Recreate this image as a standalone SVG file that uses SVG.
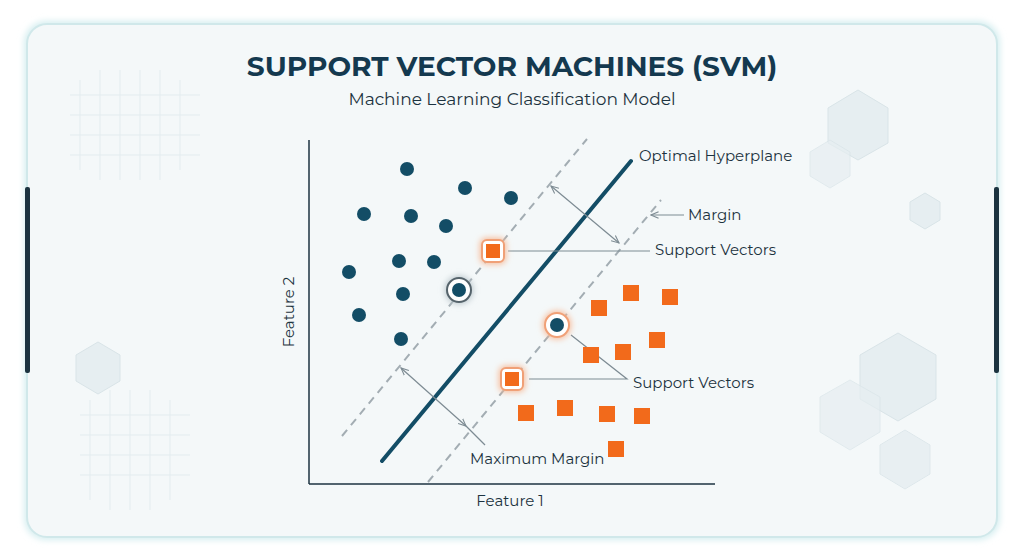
<svg xmlns="http://www.w3.org/2000/svg" width="1024" height="559" viewBox="0 0 1024 559">
<defs>
<style>
.dot{fill:#134d66}
.sq{fill:#f26a1b}
.lbl{font-family:"Montserrat","Lato","Liberation Sans",sans-serif;font-size:15px;fill:#1c3340}
.thin{stroke:#7d8b93;stroke-width:1.2;fill:none}
.dash{stroke:#a3adb3;stroke-width:2;stroke-dasharray:8 6;fill:none}
.hex{fill:#e6eef1;stroke:#d9e4e8;stroke-width:1}
.grid{stroke:#e3ecef;stroke-width:1}
</style>
<marker id="ar" viewBox="0 0 10 10" refX="9" refY="5" markerWidth="7" markerHeight="7" orient="auto-start-reverse"><path d="M0,1 L9,5 L0,9" fill="none" stroke="#7d8b93" stroke-width="1.3"/></marker>
<filter id="gl" x="-50%" y="-50%" width="200%" height="200%"><feGaussianBlur stdDeviation="3"/></filter>
</defs>
<rect width="1024" height="559" fill="#ffffff"/>
<rect x="24" y="21" width="976" height="519" rx="22" fill="#d6eef0" filter="url(#gl)"/>
<rect x="27" y="24" width="970" height="513" rx="20" fill="#f4f8f9" stroke="#d0e8ea" stroke-width="2"/>
<rect x="25" y="187" width="5" height="186" rx="2" fill="#1c3340"/>
<rect x="994" y="187" width="5" height="186" rx="2" fill="#1c3340"/>
<g id="decor">
<g class="grid">
<line x1="80" y1="80" x2="80" y2="170"/><line x1="100" y1="70" x2="100" y2="180"/><line x1="120" y1="70" x2="120" y2="180"/><line x1="140" y1="70" x2="140" y2="180"/><line x1="160" y1="70" x2="160" y2="180"/><line x1="180" y1="80" x2="180" y2="170"/>
<line x1="70" y1="95" x2="200" y2="95"/><line x1="70" y1="115" x2="200" y2="115"/><line x1="70" y1="135" x2="200" y2="135"/><line x1="70" y1="155" x2="200" y2="155"/>
<line x1="90" y1="400" x2="90" y2="500"/><line x1="110" y1="390" x2="110" y2="510"/><line x1="130" y1="390" x2="130" y2="510"/><line x1="150" y1="390" x2="150" y2="510"/><line x1="170" y1="400" x2="170" y2="500"/>
<line x1="80" y1="415" x2="190" y2="415"/><line x1="80" y1="435" x2="190" y2="435"/><line x1="80" y1="455" x2="190" y2="455"/><line x1="80" y1="475" x2="190" y2="475"/>
</g>
<polygon class="hex" points="858,90 888,108 888,143 858,160 828,143 828,108"/>
<polygon class="hex" points="830,140 850,152 850,176 830,188 810,176 810,152" opacity="0.7"/>
<polygon class="hex" points="925,193 940,202 940,220 925,229 910,220 910,202"/>
<polygon class="hex" points="898,333 936,355 936,399 898,421 860,399 860,355"/>
<polygon class="hex" points="850,380 880,397 880,432 850,450 820,432 820,397" opacity="0.7"/>
<polygon class="hex" points="905,430 930,445 930,474 905,489 880,474 880,445" opacity="0.8"/>
<polygon class="hex" points="98,342 120,355 120,381 98,394 76,381 76,355"/>
</g>
<g id="title">
<text x="512" y="76" text-anchor="middle" font-family="Montserrat,'Lato','Liberation Sans',sans-serif" font-weight="bold" font-size="28" fill="#14394f">SUPPORT VECTOR MACHINES (SVM)</text>
<text x="512" y="105" text-anchor="middle" font-family="Montserrat,'Lato','Liberation Sans',sans-serif" font-size="17" fill="#1c3340">Machine Learning Classification Model</text>
</g>
<g id="axes" stroke="#1c3340" stroke-width="1.5">
<line x1="309" y1="140" x2="309" y2="484"/><line x1="309" y1="484" x2="715" y2="484"/>
</g>
<text class="lbl" x="510" y="506" text-anchor="middle">Feature 1</text>
<text class="lbl" transform="translate(294,312) rotate(-90)" text-anchor="middle">Feature 2</text>
<g id="connectors">
<line class="dash" x1="342" y1="436" x2="587" y2="139"/>
<line class="dash" x1="428" y1="482" x2="661" y2="200"/>
<line x1="382" y1="461" x2="631" y2="161" stroke="#134d66" stroke-width="4" stroke-linecap="round"/>
<line class="thin" x1="551" y1="186" x2="619" y2="243" marker-start="url(#ar)" marker-end="url(#ar)"/>
<line class="thin" x1="401" y1="368" x2="466" y2="426" marker-start="url(#ar)" marker-end="url(#ar)"/>
<line class="thin" x1="466" y1="426" x2="485" y2="445"/>
<line class="thin" x1="684" y1="215" x2="651" y2="215" marker-end="url(#ar)"/>
<line class="thin" x1="508" y1="251" x2="650" y2="251"/>
<polyline class="thin" points="571,335 627,379 529,379"/>
</g>
<g id="blue-dots">
<circle class="dot" cx="407" cy="169" r="7"/><circle class="dot" cx="465" cy="188" r="7"/><circle class="dot" cx="511" cy="198" r="7"/>
<circle class="dot" cx="364" cy="214" r="7"/><circle class="dot" cx="411" cy="216" r="7"/><circle class="dot" cx="446" cy="226" r="7"/>
<circle class="dot" cx="399" cy="261" r="7"/><circle class="dot" cx="434" cy="262" r="7"/><circle class="dot" cx="349" cy="272" r="7"/>
<circle class="dot" cx="403" cy="294" r="7"/><circle class="dot" cx="359" cy="315" r="7"/><circle class="dot" cx="401" cy="339" r="7"/>
</g>
<g id="sv-blue-left">
<circle cx="459" cy="290" r="14" fill="#b8c4ca" filter="url(#gl)"/>
<circle cx="459" cy="290" r="12" fill="#fff" stroke="#55636b" stroke-width="2"/>
<circle class="dot" cx="459" cy="290" r="7"/>
</g>
<g id="sv-blue-right">
<circle cx="557" cy="325" r="14" fill="#f7b894" filter="url(#gl)"/>
<circle cx="557" cy="325" r="12" fill="#fff" stroke="#f0a077" stroke-width="2"/>
<circle class="dot" cx="557" cy="325" r="7"/>
</g>
<g id="orange-squares">
<rect class="sq" x="591" y="300" width="16" height="16"/><rect class="sq" x="623" y="285" width="16" height="16"/><rect class="sq" x="662" y="289" width="16" height="16"/>
<rect class="sq" x="649" y="332" width="16" height="16"/><rect class="sq" x="615" y="344" width="16" height="16"/><rect class="sq" x="583" y="347" width="16" height="16"/>
<rect class="sq" x="518" y="405" width="16" height="16"/><rect class="sq" x="557" y="400" width="16" height="16"/><rect class="sq" x="599" y="406" width="16" height="16"/>
<rect class="sq" x="634" y="408" width="16" height="16"/><rect class="sq" x="608" y="441" width="16" height="16"/>
</g>
<g id="sv-orange-top">
<rect x="480" y="238" width="26" height="26" rx="6" fill="#f7b894" filter="url(#gl)"/>
<rect x="482" y="240" width="22" height="22" rx="5" fill="#fff" stroke="#f0a077" stroke-width="2"/>
<rect class="sq" x="486" y="244" width="14" height="14"/>
</g>
<g id="sv-orange-bottom">
<rect x="499" y="366" width="26" height="26" rx="6" fill="#f7b894" filter="url(#gl)"/>
<rect x="501" y="368" width="22" height="22" rx="5" fill="#fff" stroke="#f0a077" stroke-width="2"/>
<rect class="sq" x="505" y="372" width="14" height="14"/>
</g>
<g id="labels">
<text class="lbl" x="639" y="161">Optimal Hyperplane</text>
<text class="lbl" x="688" y="220">Margin</text>
<text class="lbl" x="655" y="255">Support Vectors</text>
<text class="lbl" x="633" y="388">Support Vectors</text>
<text class="lbl" x="470" y="464">Maximum Margin</text>
</g>
</svg>
